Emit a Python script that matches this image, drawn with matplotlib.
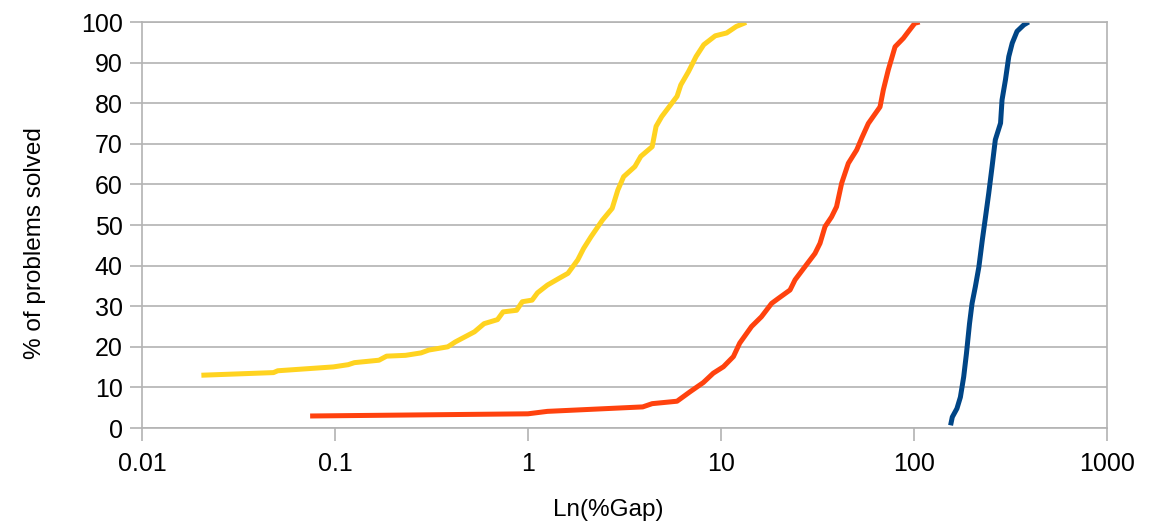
import matplotlib
matplotlib.use('Agg')
import matplotlib.pyplot as plt
from matplotlib.ticker import FixedLocator, FixedFormatter

plt.rcParams['font.family'] = ['Liberation Sans', 'DejaVu Sans']

# 黄色曲线
yellow_x = [0.0203, 0.048, 0.0505, 0.098, 0.117, 0.126, 0.169, 0.185, 0.232, 0.279,
            0.306, 0.384, 0.42, 0.528, 0.592, 0.695, 0.743, 0.873, 0.934, 1.05,
            1.12, 1.26, 1.44, 1.61, 1.81, 1.94, 2.12, 2.43, 2.73, 2.92,
            3.13, 3.58, 3.84, 4.40, 4.61, 4.93, 5.92, 6.19, 6.79, 7.43,
            8.14, 9.34, 10.7, 12.0, 13.5]
yellow_y = [13.0, 13.65, 14.1, 15.05, 15.6, 16.1, 16.7, 17.7, 17.9, 18.5,
            19.2, 20.0, 21.2, 23.7, 25.7, 26.7, 28.6, 29.0, 31.1, 31.5,
            33.3, 35.2, 36.8, 38.1, 41.4, 44.2, 47.1, 51.2, 54.1, 58.6,
            61.9, 64.4, 66.9, 69.3, 74.3, 76.7, 81.7, 84.5, 87.8, 91.5,
            94.4, 96.6, 97.3, 98.9, 99.9]

# 红色曲线
red_x = [0.0743, 1.0, 1.26, 3.93, 4.40, 5.92, 6.9, 8.1, 9.12, 10.3,
         11.6, 12.5, 14.4, 16.2, 18.3, 19.8, 22.8, 24.2, 27.2, 30.7,
         32.6, 34.6, 37.4, 39.7, 42.2, 45.7, 50.5, 53.6, 58.0, 66.7,
         69.4, 73.6, 79.8, 88.1, 93.4, 101, 107]
red_y = [2.96, 3.5, 4.1, 5.2, 6.0, 6.6, 8.9, 11.2, 13.5, 15.1,
         17.6, 20.9, 25.0, 27.4, 30.7, 31.9, 34.0, 36.5, 39.7, 43.0,
         45.5, 49.6, 52.0, 54.5, 60.3, 65.2, 68.5, 71.4, 75.0, 79.1,
         83.3, 88.2, 93.9, 96.0, 97.6, 99.7, 100]

# 蓝色曲线
blue_x = [154.8, 158, 167, 174, 181, 187, 194, 200, 208, 217,
          226, 235, 244, 254, 264, 281, 286, 298, 310, 323,
          342, 371, 393]
blue_y = [0.66, 2.7, 4.8, 7.6, 12.6, 18.3, 25.7, 30.7, 34.8, 39.7,
          46.3, 52.1, 57.8, 64.4, 71.0, 75.1, 80.8, 85.8, 91.5, 94.8,
          97.7, 99.3, 100]

x_ticks = [0.01, 0.1, 1, 10, 100, 1000]
x_labels = ['0.01', '0.1', '1', '10', '100', '1000']
y_ticks = list(range(0, 101, 10))

grey = '#b3b3b3'

fig = plt.figure(figsize=(11.71, 5.29), dpi=100)
ax = fig.add_axes([0.1213, 0.1909, 0.8240, 0.7675])

ax.plot(yellow_x, yellow_y, color='#ffd320', linewidth=3.6, solid_capstyle='butt')
ax.plot(red_x, red_y, color='#ff420e', linewidth=3.6, solid_capstyle='butt')
ax.plot(blue_x, blue_y, color='#004586', linewidth=3.6, solid_capstyle='butt')

ax.set_xscale('log')
ax.set_xlim(0.01, 1000)
ax.set_ylim(0, 100)
ax.xaxis.set_major_locator(FixedLocator(x_ticks))
ax.xaxis.set_major_formatter(FixedFormatter(x_labels))
ax.xaxis.set_minor_locator(FixedLocator([]))
ax.set_yticks(y_ticks)

ax.grid(axis='y', color=grey, linewidth=1.2)
ax.set_axisbelow(True)
for s in ax.spines.values():
    s.set_color(grey)
    s.set_linewidth(1.2)

ax.tick_params(axis='both', which='major', length=9, width=1.2, color=grey,
               labelsize=18, labelcolor='black')
ax.tick_params(axis='x', pad=8)
ax.tick_params(axis='y', pad=5)

ax.set_xlabel('Ln(%Gap)', fontsize=17.5)
ax.set_ylabel('% of problems solved', fontsize=17.5)
# 轴标题位置(参考图略偏)
ax.xaxis.set_label_coords(0.483, -0.175)
ax.yaxis.set_label_coords(-0.0995, 0.456)

fig.savefig('out.png', dpi=100)
